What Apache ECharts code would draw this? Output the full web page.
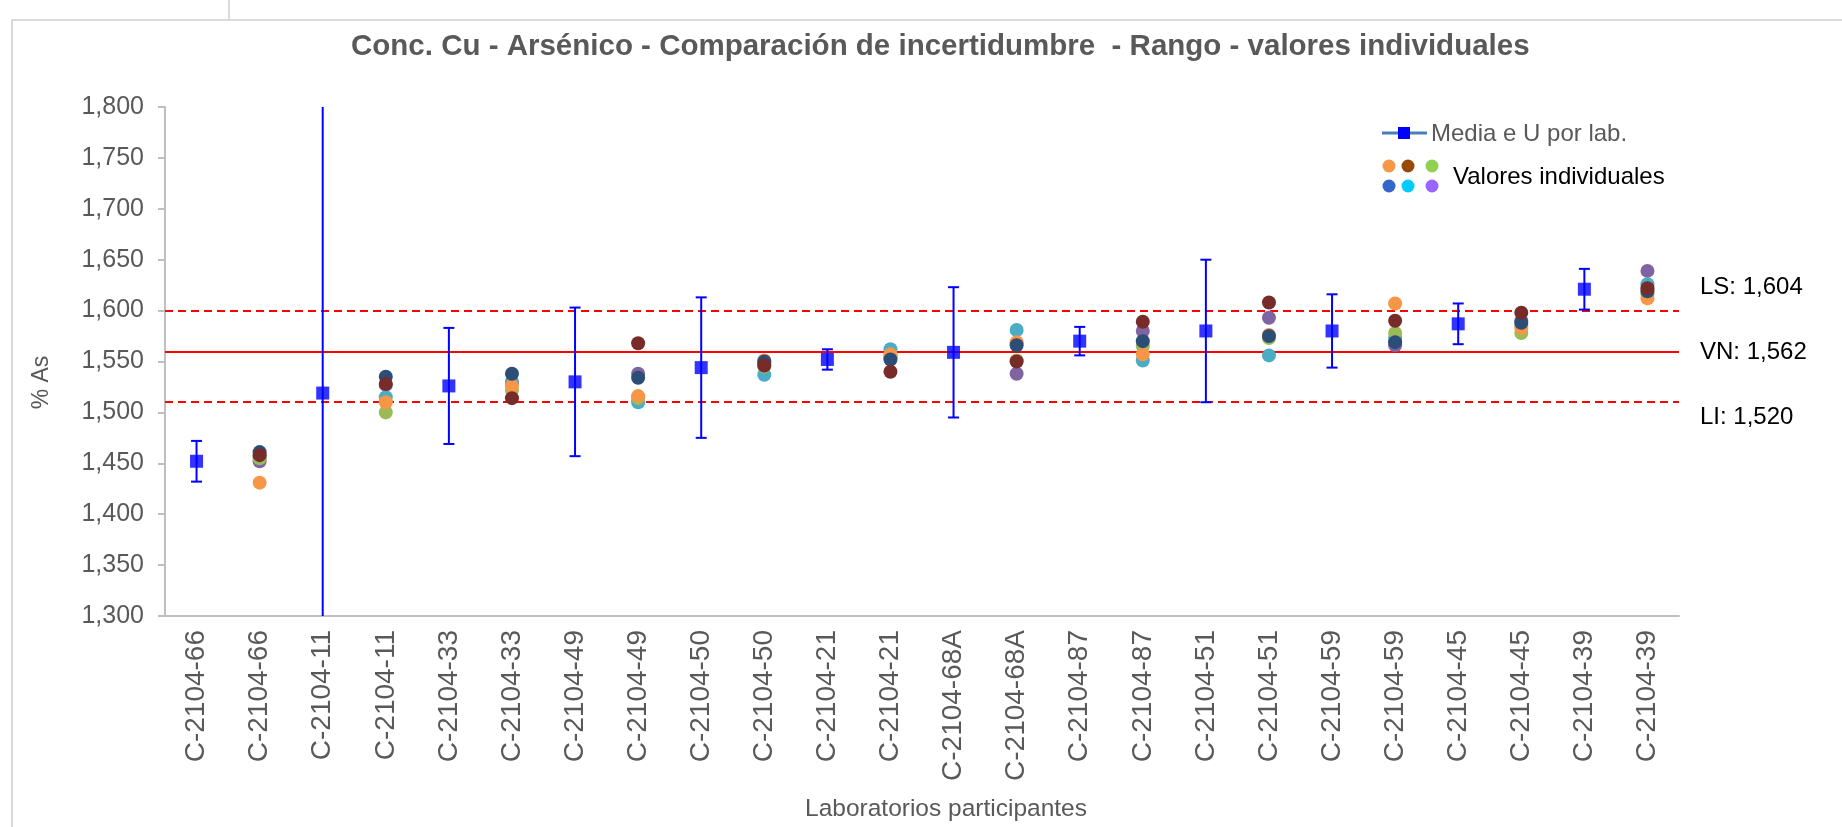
<!DOCTYPE html>
<html><head><meta charset="utf-8">
<script src="https://cdn.jsdelivr.net/npm/echarts@6/dist/echarts.min.js"></script>
<style>html,body{margin:0;padding:0;background:#fff}#c{width:1842px;height:827px}</style>
</head><body><div id="c"></div>
<script>
// ---- data ----
const categories = ['C-2104-66','C-2104-66','C-2104-11','C-2104-11','C-2104-33','C-2104-33','C-2104-49','C-2104-49',
  'C-2104-50','C-2104-50','C-2104-21','C-2104-21','C-2104-68A','C-2104-68A','C-2104-87','C-2104-87',
  'C-2104-51','C-2104-51','C-2104-59','C-2104-59','C-2104-45','C-2104-45','C-2104-39','C-2104-39'];
// per laboratory (12 labs): mean and expanded uncertainty
const meanValues = [1.452, 1.519, 1.526, 1.530, 1.544, 1.552, 1.559, 1.570, 1.580, 1.580, 1.587, 1.621];
const uValues    = [0.020, 0.300, 0.057, 0.073, 0.069, 0.010, 0.064, 0.014, 0.070, 0.036, 0.020, 0.020];
// individual values per laboratory
const indivPurple = [1.452, 1.527, 1.530, 1.538, 1.548, 1.555, 1.538, 1.580, 1.593, 1.566, 1.590, 1.639];
const indivTeal   = [1.456, 1.515, 1.529, 1.510, 1.537, 1.562, 1.581, 1.551, 1.556, 1.573, 1.585, 1.626];
const indivGreen  = [1.455, 1.500, 1.522, 1.514, 1.545, 1.553, 1.551, 1.565, 1.573, 1.578, 1.578, 1.616];
const indivOrange = [1.431, 1.510, 1.526, 1.516, 1.551, 1.557, 1.569, 1.557, 1.576, 1.607, 1.583, 1.612];
const indivNavy   = [1.461, 1.535, 1.538, 1.534, 1.550, 1.552, 1.566, 1.570, 1.575, 1.569, 1.588, 1.619];
const indivRed    = [1.458, 1.528, 1.514, 1.568, 1.546, 1.540, 1.550, 1.589, 1.608, 1.590, 1.598, 1.622];
// reference lines
const limitNames  = ['LS', 'VN', 'LI'];
const limitValues = [1.604, 1.562, 1.515];
const limitLabels = ['1,604', '1,562', '1,520'];
// y axis
const yMin = 1.300, yMax = 1.800, yStep = 0.050;

// ---- chart ----
const chart = echarts.init(document.getElementById('c'), null, {renderer: 'canvas'});
const FONT = 'Liberation Sans, Arial, sans-serif';
const GRAY = '#595959';

function indivSeries(name, vals, color) {
  return {
    name, type: 'scatter', symbol: 'circle', symbolSize: 14,
    itemStyle: {color: color, opacity: 1},
    data: vals.map((v, i) => [2 * i + 1, v]),
    z: 5, silent: true
  };
}

const lineStyles = [
  {type: [8, 5], color: '#FF0000', width: 2},
  {type: 'solid', color: '#FF0000', width: 2},
  {type: [8, 5], color: '#FF0000', width: 2}
];
const labelShift = [-19, 3, 20];

const baseGraphic = [
  {type: 'rect', shape: {x: 12, y: 20, width: 1900, height: 900}, style: {fill: 'none', stroke: '#D9D9D9', lineWidth: 2}, silent: true},
  {type: 'line', shape: {x1: 229, y1: 0, x2: 229, y2: 20}, style: {stroke: '#D9D9D9', lineWidth: 2}, silent: true},
  // legend: mean
  {type: 'line', shape: {x1: 1382, y1: 133, x2: 1427, y2: 133}, style: {stroke: '#4A7EBB', lineWidth: 3}},
  {type: 'rect', shape: {x: 1398, y: 127, width: 12, height: 12}, style: {fill: '#0000FF'}},
  {type: 'text', x: 1431, y: 134, style: {text: 'Media e U por lab.', fontSize: 24, fontFamily: FONT, fill: GRAY, verticalAlign: 'middle'}},
  // legend: individual values
  {type: 'circle', shape: {cx: 1389, cy: 166, r: 6.5}, style: {fill: '#F79646'}},
  {type: 'circle', shape: {cx: 1408, cy: 166, r: 6.5}, style: {fill: '#984807'}},
  {type: 'circle', shape: {cx: 1432, cy: 166, r: 6.5}, style: {fill: '#92D050'}},
  {type: 'circle', shape: {cx: 1389, cy: 186, r: 6.5}, style: {fill: '#3366CC'}},
  {type: 'circle', shape: {cx: 1408, cy: 186, r: 6.5}, style: {fill: '#00CCFF'}},
  {type: 'circle', shape: {cx: 1432, cy: 186, r: 6.5}, style: {fill: '#9966FF'}},
  {type: 'text', x: 1453, y: 177, style: {text: 'Valores individuales', fontSize: 24, fontFamily: FONT, fill: '#000000', verticalAlign: 'middle'}}
];

const option = {
  backgroundColor: '#ffffff',
  animation: false,
  title: {
    text: 'Conc. Cu - Arsénico - Comparación de incertidumbre  - Rango - valores individuales',
    left: 346, top: 27,
    textStyle: {fontFamily: FONT, fontSize: 29.5, fontWeight: 'bold', color: GRAY}
  },
  grid: {left: 165, right: 163, top: 107, bottom: 210, containLabel: false},
  xAxis: {
    type: 'category', data: categories, boundaryGap: true,
    axisLine: {show: true, lineStyle: {color: '#BFBFBF', width: 2}},
    axisTick: {show: false},
    axisLabel: {interval: 0, rotate: 90, margin: 14, fontSize: 28, color: GRAY, fontFamily: FONT},
    splitLine: {show: false},
    name: 'Laboratorios participantes', nameLocation: 'middle', nameGap: 181,
    nameTextStyle: {fontSize: 24.5, color: GRAY, fontFamily: FONT, padding: [0, 0, 0, 48]}
  },
  yAxis: {
    type: 'value', min: yMin, max: yMax, interval: yStep,
    axisLine: {show: true, lineStyle: {color: '#BFBFBF', width: 2}},
    axisTick: {show: true, length: 7, lineStyle: {color: '#BFBFBF', width: 2}},
    axisLabel: {margin: 21, fontSize: 25, color: GRAY, fontFamily: FONT,
      formatter: v => v.toFixed(3).replace('.', ',')},
    splitLine: {show: false},
    name: '% As', nameLocation: 'middle', nameGap: 112, nameRotate: 90,
    nameTextStyle: {fontSize: 23, color: GRAY, fontFamily: FONT, padding: [0, 42, 0, 0]}
  },
  series: [
    {
      name: 'errbar', type: 'custom', clip: true, z: 3, silent: true,
      data: meanValues.map((m, i) => [2 * i, m - uValues[i], m + uValues[i]]),
      encode: {x: 0, y: [1, 2]},
      renderItem: function (params, api) {
        const x = api.value(0);
        const lo = api.coord([x, api.value(1)]);
        const hi = api.coord([x, api.value(2)]);
        const cap = 5.5;
        const st = {stroke: '#0000FF', lineWidth: 2};
        return {type: 'group', children: [
          {type: 'line', shape: {x1: lo[0], y1: lo[1], x2: hi[0], y2: hi[1]}, style: st},
          {type: 'line', shape: {x1: lo[0] - cap, y1: lo[1], x2: lo[0] + cap, y2: lo[1]}, style: st},
          {type: 'line', shape: {x1: hi[0] - cap, y1: hi[1], x2: hi[0] + cap, y2: hi[1]}, style: st}
        ]};
      }
    },
    {
      name: 'Media e U por lab.', type: 'scatter', symbol: 'rect', symbolSize: 13, z: 4, silent: true,
      itemStyle: {color: '#0000FF'},
      data: meanValues.map((m, i) => [2 * i, m]),
      markLine: {
        silent: true, symbol: ['none', 'none'], z: 2,
        label: {show: false},
        data: limitValues.map((v, i) => ({yAxis: v, lineStyle: lineStyles[i]}))
      }
    },
    indivSeries('s6', indivPurple, '#8064A2'),
    indivSeries('s5', indivTeal, '#4BACC6'),
    indivSeries('s3', indivGreen, '#9BBB59'),
    indivSeries('s1', indivOrange, '#F79646'),
    indivSeries('s4', indivNavy, '#2C4D75'),
    indivSeries('s2', indivRed, '#772C2A')
  ],
  graphic: baseGraphic
};
chart.setOption(option);

// labels for the reference lines, placed from the y scale
const limitText = limitValues.map((v, i) => {
  const y = chart.convertToPixel({yAxisIndex: 0}, v);
  return {type: 'text', x: 1700, y: y + labelShift[i],
    style: {text: limitNames[i] + ': ' + limitLabels[i], fontSize: 24, fontFamily: FONT, fill: '#000000', verticalAlign: 'middle'}};
});
chart.setOption({graphic: baseGraphic.concat(limitText)}, {replaceMerge: ['graphic']});
</script>
</body></html>
